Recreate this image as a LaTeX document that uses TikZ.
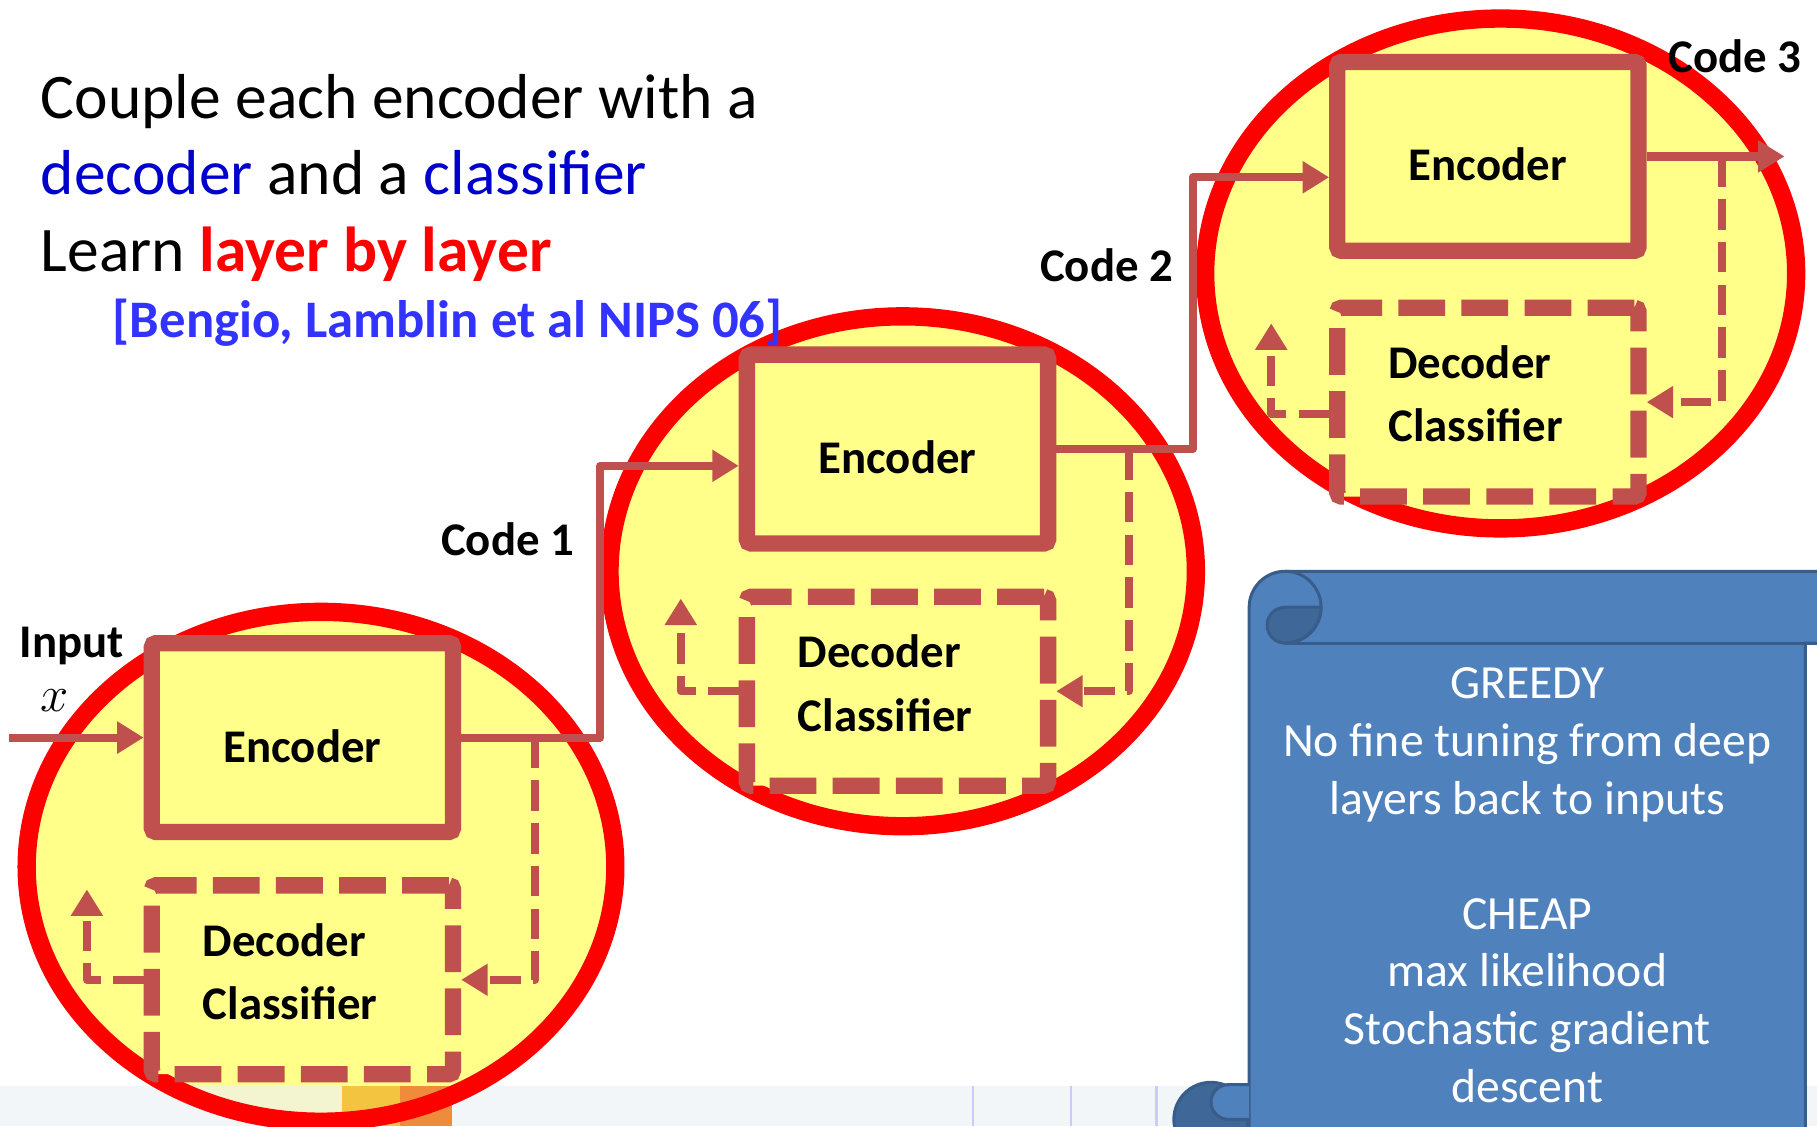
\documentclass[tikz,border=0pt]{standalone}
\usepackage{fontspec}
\setmainfont{Carlito}
\usetikzlibrary{positioning,arrows.meta}

\definecolor{ringred}{RGB}{255,0,0}
\definecolor{padyellow}{RGB}{255,255,138}
\definecolor{boxred}{RGB}{192,80,77}
\definecolor{wordblue}{RGB}{0,0,204}
\definecolor{citeblue}{RGB}{51,51,255}
\definecolor{scrollblue}{RGB}{79,129,189}
\definecolor{scrolledge}{RGB}{56,93,138}
\definecolor{scrolldark}{RGB}{63,103,151}
\definecolor{stripgray}{RGB}{236,241,246}
\definecolor{stripyellow}{RGB}{242,196,64}
\definecolor{striporange}{RGB}{238,140,60}

\begin{document}
\begin{tikzpicture}[x=0.02cm, y=-0.02cm,
        pad_ring/.style={draw=ringred, line width=9pt},
        layer_box/.style={rectangle, rounded corners=2pt, draw=boxred, fill=padyellow, line width=8pt, minimum width=5.2cm, minimum height=3.26cm, inner sep=0},
        enc_box/.style={layer_box, text height=24pt, text depth=0pt, font=\fontsize{23}{28}\selectfont\bfseries},
        dec_box/.style={layer_box, dash pattern=on 23pt off 8pt, text width=3.44cm, align=left, text depth=39pt, font=\fontsize{23}{31}\selectfont\bfseries},
        code_link/.style={draw=boxred, line width=4pt, line join=round},
        back_link/.style={code_link, dash pattern=on 15pt off 6pt},
        tip/.style={-{Triangle[length=13pt,width=15pt]}},
        label_text/.style={inner sep=0, font=\fontsize{23}{28}\selectfont\bfseries},
        title_text/.style={inner sep=0, font=\fontsize{31.2}{37.7}\selectfont},
        scroll_text/.style={inner sep=0, text=white, align=center, font=\fontsize{23.4}{28.3}\selectfont}
        ]
            \useasboundingbox (0,0) rectangle (1568,972);
            \clip (0,0) rectangle (1568,972);

            % layer pads
            \fill[padyellow] (277,748) ellipse [x radius=254, y radius=220];
            \fill[padyellow] (779,493) ellipse [x radius=253, y radius=220];
            \fill[padyellow] (1295,236) ellipse [x radius=255, y radius=220];

            % strip along the bottom
            \fill[stripgray, opacity=0.65] (0,937) rectangle (1568,972);
            \fill[stripyellow] (295,937) rectangle (345,972);
            \fill[striporange] (345,937) rectangle (390,972);
            \draw[stripgray!70!blue!60, line width=1pt] (840,937) -- (840,972);
            \draw[stripgray!70!blue!60, line width=1pt] (924,937) -- (924,972);
            \draw[stripgray!70!blue!60, line width=1pt] (998,937) -- (998,972);

            \draw[pad_ring] (277,748) ellipse [x radius=254, y radius=220];
            \draw[pad_ring] (779,493) ellipse [x radius=253, y radius=220];
            \draw[pad_ring] (1295,236) ellipse [x radius=255, y radius=220];

            % text
            \node[title_text, anchor=base west] (line_1) at (35,102) {Couple each encoder with a};
            \node[title_text, anchor=base west] (line_2) at (35,168) {\textcolor{wordblue}{decoder} and a \textcolor{wordblue}{classifier}};
            \node[title_text, anchor=base west] (line_3) at (35,234) {Learn \textcolor{ringred}{\bfseries layer by layer}};
            \node[inner sep=0, anchor=base west, text=citeblue, font=\fontsize{25.9}{30}\selectfont\bfseries] (cite) at (97,291) {[Bengio, Lamblin et al NIPS 06]};

            % layer 1
            \node[enc_box] (enc_1) at (261,636.5) {Encoder};
            \node[dec_box] (dec_1) [below = 0.64cm of enc_1] {Decoder\\Classifier};
            % layer 2
            \node[enc_box] (enc_2) at (774.5,387.5) {Encoder};
            \node[dec_box] (dec_2) [below = 0.64cm of enc_2] {Decoder\\Classifier};
            % layer 3
            \node[enc_box] (enc_3) at (1284,135) {Encoder};
            \node[dec_box] (dec_3) [below = 0.7cm of enc_3] {Decoder\\Classifier};

            % labels
            \node[label_text, anchor=base] (input) at (62,567) {Input};
            \node[inner sep=0, anchor=base, font=\fontsize{26}{30}\selectfont] (x_var) at (47,614) {$x$};
            \node[label_text, anchor=base] (code_1) at (438,479) {Code 1};
            \node[label_text, anchor=base] (code_2) at (955,243) {Code 2};
            \node[label_text, anchor=base] (code_3) at (1497,63) {Code 3};

            % forward path
            \coordinate (x_in) at (8,636.5);
            \coordinate (code_out) at (1540,135);
            \draw[code_link, tip] (x_in) -- (enc_1.west);
            \draw[code_link, tip] (enc_1.east) -- ++(120,0) |- ([yshift=-0.29cm]enc_2.west);
            \draw[code_link, tip] (enc_2.east) -- ++(118,0) |- ([yshift=-0.36cm]enc_3.west);
            \draw[code_link, tip] (enc_3.east) -- (code_out);

            % decoder / classifier loops
            \draw[back_link, tip] ([xshift=1.28cm]enc_1.east) |- (dec_1.east);
            \draw[back_link, tip] ([xshift=1.26cm]enc_2.east) |- (dec_2.east);
            \draw[back_link, tip] ([xshift=1.3cm]enc_3.east) |- (dec_3.east);
            \draw[back_link, tip] (dec_1.west) -- ++(-49,0) -- ++(0,-78);
            \draw[back_link, tip] (dec_2.west) -- ++(-50,0) -- ++(0,-80);
            \draw[back_link, tip] ([yshift=-0.2cm]dec_3.west) -- ++(-50,0) -- ++(0,-78);

            % scroll
            \filldraw[fill=scrollblue, draw=scrolledge, line width=1.5pt] (1078,990) -- (1078,524) arc[start angle=180, end angle=270, radius=31] -- (1580,493) -- (1580,555) -- (1558,555) -- (1558,990) -- cycle;
            \draw[scrolledge, line width=1.5pt] (1109,555) -- (1568,555);
            \filldraw[fill=scrolldark, draw=scrolledge, line width=1.5pt] (1140,524) -- (1109,524) arc[start angle=270, end angle=90, radius=15.5] arc[start angle=90, end angle=0, radius=31];
            \draw[scrolledge, line width=1.5pt] (1109,493) arc[start angle=270, end angle=450, radius=31];
            \filldraw[fill=scrolldark, draw=scrolledge, line width=1.5pt] (1045,966) circle [radius=32];
            \filldraw[fill=scrollblue, draw=scrolledge, line width=1.5pt] (1078,936) -- (1060,936) arc[start angle=270, end angle=90, radius=15] -- (1078,966);
            \node[scroll_text, anchor=north] (notes) at (1318,576) {GREEDY\\No fine tuning from deep\\layers back to inputs\\[28.3pt]CHEAP\\max likelihood\\Stochastic gradient\\descent};
        \end{tikzpicture}
\end{document}
